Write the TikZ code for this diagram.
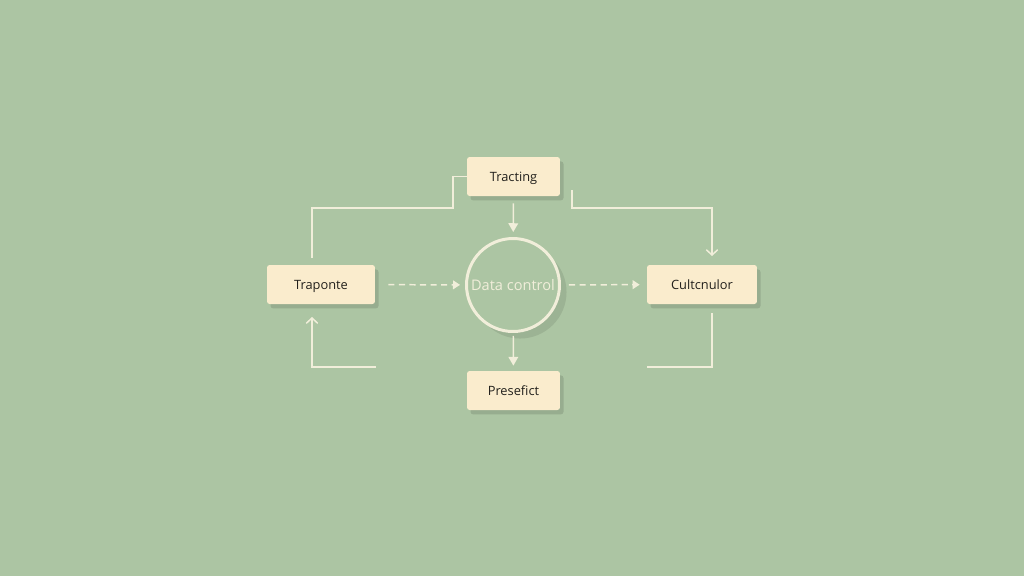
\documentclass[tikz,border=0pt]{standalone}
\usepackage{fontspec}
\setmainfont{Open Sans}
\usetikzlibrary{arrows.meta,shadows}

\definecolor{bggreen}{RGB}{172,197,163}
\definecolor{boxcream}{RGB}{250,236,205}
\definecolor{linecream}{RGB}{241,238,218}
\definecolor{txtdark}{RGB}{34,32,28}

\tikzset{
  box/.style={rectangle, rounded corners=1.5pt, fill=boxcream, text=txtdark,
    minimum height=0.78cm, inner sep=0pt, text height=6.3pt, text depth=0.7pt,
    font=\fontsize{7.3}{8}\selectfont,
    drop shadow={shadow xshift=2pt, shadow yshift=-2.5pt, opacity=0.12, fill=black}},
  hub/.style={circle, draw=linecream, line width=1.7pt, fill=bggreen,
    minimum size=1.86cm, inner sep=0pt, text=linecream, font=\fontsize{8.3}{9}\selectfont,
    drop shadow={shadow xshift=4pt, shadow yshift=-4pt, opacity=0.09, fill=black}},
  link/.style={draw=linecream, line width=0.85pt},
  flow/.style={link, dash pattern=on 3.5pt off 2.5pt, -{Triangle[length=4pt,width=5pt]}},
  feed/.style={link, -{Triangle[length=5pt,width=5.5pt]}},
  back/.style={link, -{Straight Barb[length=3pt,width=6.5pt]}}
}

\begin{document}
\begin{tikzpicture}[x=0.02cm,y=-0.02cm]
  % background
  \fill[bggreen] (0,0) rectangle (1024,576);

  % nodes
  \node[hub] (ctrl) at (513,285) {Data control};
  \node[box, minimum width=1.86cm] (trac) at (513.5,176.5) {Tracting};
  \node[box, minimum width=2.16cm] (trap) at (321,284.5) {Traponte};
  \node[box, minimum width=2.2cm] (cult) at (702,284.5) {Cultcnulor};
  \node[box, minimum width=1.86cm] (pres) at (513.5,390.5) {Presefict};

  % free ends of the loops
  \coordinate (trapTop) at (312,258);
  \coordinate (tracRight) at (572,190);
  \coordinate (cultTop) at (712,256);
  \coordinate (cultBot) at (712,313);
  \coordinate (cultEnd) at (647,367);
  \coordinate (trapEnd) at (376,367);
  \coordinate (trapBot) at (312,317);

  % straight flow through the hub
  \draw[flow, shorten <=0.26cm, shorten >=0.1cm] (trap) -- (ctrl);
  \draw[flow, shorten <=0.16cm, shorten >=0.14cm] (ctrl) -- (cult);
  \draw[feed, shorten <=0.14cm, shorten >=0.1cm] (trac) -- (ctrl);
  \draw[feed, shorten <=0.06cm, shorten >=0.1cm] (ctrl) -- (pres);

  % outer loop
  \draw[link] (trac.west) -| (453,208) -| (trapTop);
  \draw[back] (tracRight) |- (712,208) -- (cultTop);
  \draw[link] (cultBot) |- (cultEnd);
  \draw[back] (trapEnd) -| (trapBot);
\end{tikzpicture}
\end{document}
